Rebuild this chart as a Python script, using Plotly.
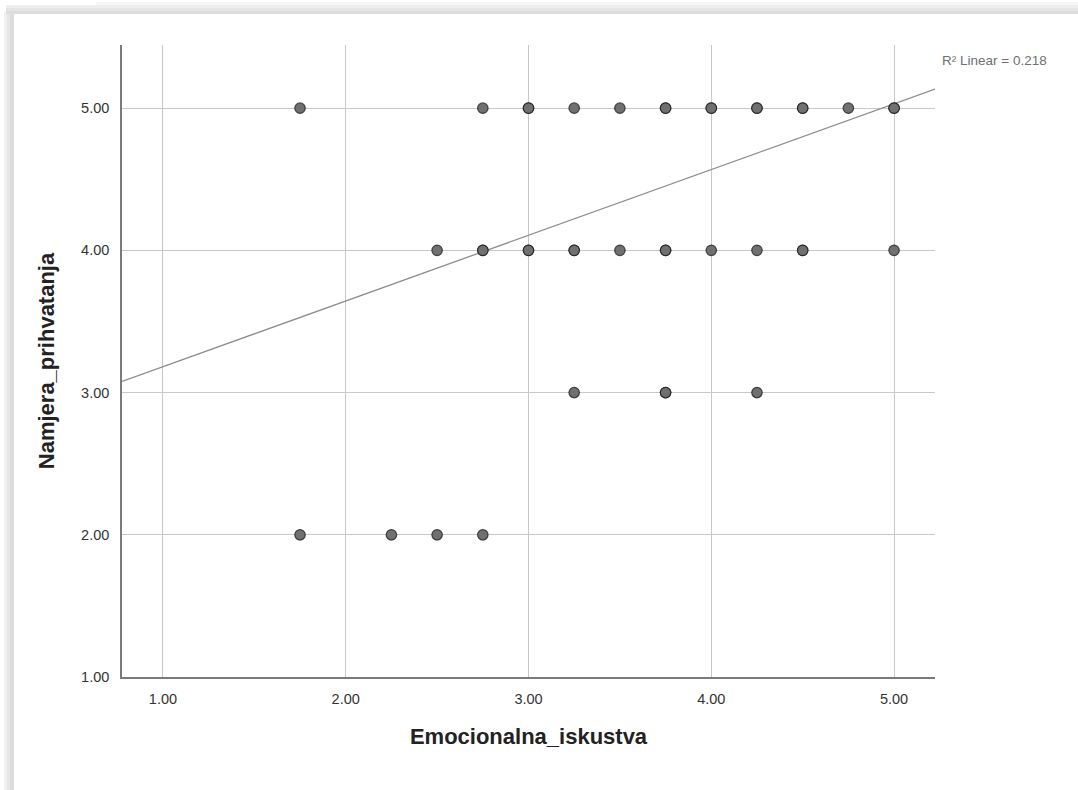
import plotly.graph_objects as go

# ---- data ----
emocionalna_iskustva = [
    1.75, 2.75, 3.00, 3.00, 3.25, 3.50, 3.75, 3.75, 4.00, 4.00, 4.25, 4.25, 4.50, 4.50, 4.75, 5.00, 5.00,
    2.50, 2.75, 2.75, 3.00, 3.00, 3.25, 3.25, 3.50, 3.75, 3.75, 4.00, 4.25, 4.50, 4.50, 5.00,
    3.25, 3.75, 3.75, 4.25,
    1.75, 2.25, 2.50, 2.75,
]
namjera_prihvatanja = [
    5, 5, 5, 5, 5, 5, 5, 5, 5, 5, 5, 5, 5, 5, 5, 5, 5,
    4, 4, 4, 4, 4, 4, 4, 4, 4, 4, 4, 4, 4, 4, 4,
    3, 3, 3, 3,
    2, 2, 2, 2,
]
fit_intercept = 2.72
fit_slope = 0.462
r2_text = "R² Linear = 0.218"
tick_vals = [1, 2, 3, 4, 5]
tick_text = ["1.00", "2.00", "3.00", "4.00", "5.00"]
x_range = [0.776, 5.224]
y_range = [1.0, 5.444]

W, H = 1078, 790
L, R, T, B = 122, 143, 45, 113
PW, PH = W - L - R, H - T - B


def px(xpix):
    return (xpix - L) / PW


def py(ypix):
    return 1 - (ypix - T) / PH


fig = go.Figure()

fig.add_trace(go.Scatter(
    x=x_range,
    y=[fit_intercept + fit_slope * v for v in x_range],
    mode="lines",
    line=dict(color="#8c8c8c", width=1.3),
    hoverinfo="skip",
    showlegend=False,
))

fig.add_trace(go.Scatter(
    x=emocionalna_iskustva,
    y=namjera_prihvatanja,
    mode="markers",
    marker=dict(size=10.5, color="rgb(112,112,112)",
                line=dict(color="rgba(25,25,25,0.75)", width=1.2)),
    showlegend=False,
))

axis_common = dict(
    showgrid=True, gridcolor="#c8c8c8", gridwidth=1.2,
    showline=True, linecolor="#7a7a7a", linewidth=1.5,
    zeroline=False, ticks="",
    tickfont=dict(family="Liberation Sans, Arial", size=14.5, color="#333333"),
    tickvals=tick_vals, ticktext=tick_text,
)

title_font = dict(family="Liberation Sans, Arial", size=22, color="#222222", weight="bold")

fig.update_xaxes(range=x_range, ticklabelstandoff=8,
                 title=dict(text="Emocionalna_iskustva", standoff=22, font=title_font),
                 **axis_common)
fig.update_yaxes(range=y_range, ticklabelstandoff=8,
                 title=dict(text="Namjera_prihvatanja", standoff=20, font=title_font),
                 **axis_common)

# window frame shadow (left and top edges of the screenshot)
shapes = []
left_band = [(4, 7, "#f1f1f1"), (7, 10, "#e6e6e6"), (10, 14, "#dcdcdc")]
for x0, x1, c in left_band:
    shapes.append(dict(type="rect", xref="paper", yref="paper",
                       x0=px(x0), x1=px(x1), y0=py(H), y1=py(12),
                       fillcolor=c, line=dict(width=0), layer="below"))
top_band = [(5, 8, "#eeeeee"), (8, 11, "#e4e4e4"), (11, 14, "#dcdcdc")]
for y0, y1, c in top_band:
    shapes.append(dict(type="rect", xref="paper", yref="paper",
                       x0=px(6), x1=px(W), y0=py(y1), y1=py(y0),
                       fillcolor=c, line=dict(width=0), layer="below"))
shapes.append(dict(type="rect", xref="paper", yref="paper",
                   x0=px(96), x1=px(W), y0=py(5), y1=py(2),
                   fillcolor="#f6f6f6", line=dict(width=0), layer="below"))

fig.update_layout(
    width=W, height=H,
    margin=dict(l=L, r=R, t=T, b=B, pad=0),
    paper_bgcolor="white", plot_bgcolor="white",
    shapes=shapes,
    annotations=[dict(text=r2_text, xref="paper", yref="paper",
                      x=px(940), y=py(60), xanchor="left", yanchor="middle",
                      showarrow=False,
                      font=dict(family="Liberation Sans, Arial", size=13.5, color="#707070"))],
)

fig.write_html("out.html", config={"displayModeBar": False},
               post_script="document.body.style.margin='0px';document.body.style.overflow='hidden';")
